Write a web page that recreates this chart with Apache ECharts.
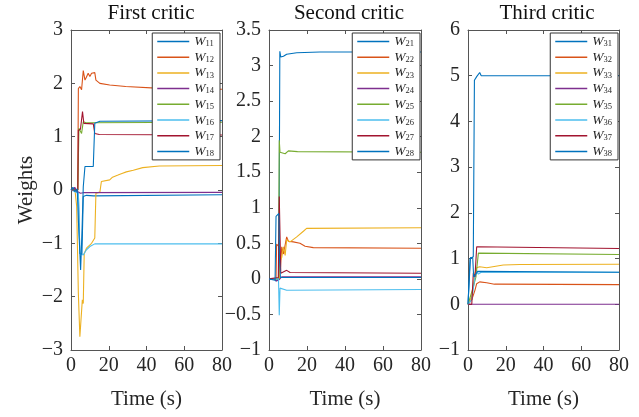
<!DOCTYPE html>
<html>
<head>
<meta charset="utf-8">
<script src="https://cdn.jsdelivr.net/npm/echarts@6/dist/echarts.min.js"></script>
<style>
html,body{margin:0;padding:0;background:#fff;}
#chart{width:639px;height:417px;}
</style>
</head>
<body>
<div id="chart"></div>
<script>
// ---------------- data ----------------
const panelTitles = ['First critic', 'Second critic', 'Third critic'];
const xLabel = 'Time (s)';
const yLabel = 'Weights';
const xRange = [0, 80, 20];
const yRange1 = [-3, 3, 1];
const yRange2 = [-1, 3.5, 0.5];
const yRange3 = [-1, 6, 1];
const names1 = ['W11','W12','W13','W14','W15','W16','W17','W18'];
const names2 = ['W21','W22','W23','W24','W25','W26','W27','W28'];
const names3 = ['W31','W32','W33','W34','W35','W36','W37','W38'];

// First critic  [time, weight]
const W11 = [[0,0],[1.5,0.03],[2.5,-0.02],[3.3,0.0],[3.9,-0.06],[4.7,-1.19],[5.8,-1.2],[6.5,-0.12],[8.2,-0.1],[12,-0.11],[80,-0.09]];
const W12 = [[0,0],[3.6,0],[3.9,1.9],[4.7,1.94],[5.6,1.88],[6.5,2.24],[7.4,2.06],[8.2,2.12],[9.1,2.19],[10,2.13],[10.9,2.19],[11.8,2.22],[12.6,2.2],[13.2,2.06],[15.3,2.0],[20.5,1.97],[29,1.94],[45,1.91],[80,1.89]];
const W13 = [[0,0],[2.1,0],[3.0,-0.3],[3.9,-1.94],[4.7,-2.75],[5.3,-2.78],[6.0,-2.06],[6.5,-2.13],[7.0,-1.19],[8.2,-1.09],[10.9,-1.0],[12.6,-0.9],[13.2,-0.06],[15.3,-0.04],[16.1,0.16],[20.5,0.19],[22,0.24],[24.9,0.28],[27,0.31],[29.3,0.34],[33,0.37],[38,0.42],[46.8,0.45],[80,0.46]];
const W14 = [[0,0],[2,0.05],[3,-0.02],[3.9,0.0],[5,-0.06],[6.5,-0.05],[80,-0.045]];
const W15 = [[0,0],[3.6,0],[4.2,1.16],[5.6,1.06],[6.5,1.28],[8,1.26],[80,1.27]];
const W16 = [[0,0],[3.9,-0.06],[4.7,-1.19],[6.5,-1.22],[8.2,-1.12],[10,-1.06],[12.6,-1.01],[80,-1.01]];
const W17 = [[0,0],[3.6,0],[3.9,1.12],[5.0,1.14],[6.1,1.47],[6.8,1.25],[11.8,1.24],[12.6,1.06],[15,1.04],[80,1.03]];
const W18 = [[0,0],[1,0.05],[2,-0.03],[3.3,0.02],[3.9,-0.56],[5.1,-1.5],[5.8,-0.81],[6.5,0.06],[7.4,0.44],[11.8,0.44],[12.6,1.25],[15.3,1.29],[80,1.3]];

// Second critic
const W21 = [[0,0],[3,0.0],[3.5,-0.03],[4.5,-0.02],[5.2,0],[5.7,3.2],[6.2,3.12],[7.6,3.13],[9.3,3.16],[14.6,3.18],[26.8,3.19],[80,3.19]];
const W22 = [[0,0],[3.7,0],[4.0,0.49],[5.4,0.45],[5.9,0.1],[6.7,0.45],[7.6,0.35],[9.3,0.59],[10.2,0.53],[12.8,0.52],[16.3,0.5],[19,0.46],[23.3,0.44],[80,0.43]];
const W23 = [[0,0],[5.5,0],[5.8,0.25],[6.7,0.3],[7.6,0.45],[8.5,0.33],[9.3,0.55],[11.1,0.52],[14.6,0.59],[18.1,0.67],[19.8,0.71],[80,0.72]];
const W24 = [[0,0],[3,0],[4,-0.03],[5.4,-0.01],[6.7,0.03],[80,0.03]];
const W25 = [[0,0],[5.0,0],[5.4,1.95],[5.8,1.78],[8.5,1.76],[10.2,1.8],[15,1.79],[80,1.78]];
const W26 = [[0,0],[5.0,0],[5.4,-0.51],[5.8,-0.13],[9.3,-0.16],[10.2,-0.14],[80,-0.15]];
const W27 = [[0,0],[4.9,0.02],[5.4,1.16],[6.2,0.08],[9.3,0.12],[11.1,0.09],[80,0.08]];
const W28 = [[0,0],[3.2,-0.02],[3.7,0.88],[5.2,0.92],[5.5,0.3],[6.0,0.02],[80,0.02]];

// Third critic
const W31 = [[0,0],[0.2,0],[1.1,1.0],[2.8,1.04],[3.4,4.9],[4.6,4.98],[5.5,5.0],[6.2,5.07],[7.0,5.0],[80,5.0]];
const W32 = [[0,0],[1,0],[2.0,0.1],[3.7,0.31],[4.6,0.45],[6.2,0.49],[9.9,0.47],[14,0.44],[80,0.43]];
const W33 = [[0,0],[1,0],[2.0,0.17],[3.7,0.68],[4.6,0.8],[5.5,0.77],[6.2,0.82],[9.9,0.8],[18.7,0.86],[27.5,0.87],[80,0.875]];
const W34 = [[0,0],[4.6,0],[5.5,-0.04],[6.2,0],[80,0]];
const W35 = [[0,0],[1,0],[2.8,0.38],[4.2,0.6],[5.5,1.12],[6.2,1.09],[80,1.09]];
const W36 = [[0,0],[1,0],[2.0,0.1],[3.7,0.6],[4.6,0.71],[5.5,0.66],[7.0,0.7],[80,0.7]];
const W37 = [[0,0],[2.0,0],[2.8,0.68],[3.7,0.6],[4.6,1.26],[5.5,1.22],[80,1.22]];
const W38 = [[0,0],[0.5,0],[1.3,1.02],[2.5,1.02],[3.0,0.6],[4.0,0.65],[5.0,0.72],[80,0.7]];

const panelData = [
  [W11,W12,W13,W14,W15,W16,W17,W18],
  [W21,W22,W23,W24,W25,W26,W27,W28],
  [W31,W32,W33,W34,W35,W36,W37,W38]
];
const panelNames = [names1, names2, names3];
const yRanges = [yRange1, yRange2, yRange3];

// ---------------- style ----------------
const colors = ['#0072BD','#D95319','#EDB120','#7E2F8E','#77AC30','#4DBEEE','#A2142F','#0072BD'];
const FONT = 'Liberation Serif';
const axisColor = '#555555';
const textColor = '#262626';
const grids = [
  {left: 71, top: 30, width: 151, height: 320},
  {left: 269, top: 30, width: 152, height: 320},
  {left: 468, top: 30, width: 151, height: 320}
];
const legendRight = [419, 219, 21];
const titleX = [151, 349, 547];

const lineStyle = {color: axisColor, width: 1};
const fmt = v => String(v).replace('-', '\u2212');

const xAxis = [], yAxis = [], series = [], legend = [], graphic = [];
grids.forEach((g, gi) => {
  xAxis.push({
    type: 'value', gridIndex: gi, min: xRange[0], max: xRange[1], interval: xRange[2],
    position: 'bottom',
    axisLine: {show: true, onZero: false, lineStyle},
    axisTick: {show: true, inside: true, length: 4, lineStyle},
    axisLabel: {fontFamily: FONT, fontSize: 20, color: textColor, margin: 6},
    splitLine: {show: false},
    name: xLabel, nameLocation: 'middle', nameGap: 39,
    nameTextStyle: {fontFamily: FONT, fontSize: 21, color: textColor}
  });
  xAxis.push({
    type: 'value', gridIndex: gi, min: xRange[0], max: xRange[1], interval: xRange[2],
    position: 'top',
    axisLine: {show: true, onZero: false, lineStyle},
    axisTick: {show: true, inside: true, length: 4, lineStyle},
    axisLabel: {show: false}, splitLine: {show: false}
  });
  const yr = yRanges[gi];
  const ya = {
    type: 'value', gridIndex: gi, min: yr[0], max: yr[1], interval: yr[2],
    position: 'left',
    axisLine: {show: true, onZero: false, lineStyle},
    axisTick: {show: true, inside: true, length: 4, lineStyle},
    axisLabel: {fontFamily: FONT, fontSize: 20, color: textColor, margin: 8, formatter: fmt},
    splitLine: {show: false}
  };
  if (gi === 0) {
    ya.name = yLabel; ya.nameLocation = 'middle'; ya.nameGap = 34;
    ya.nameTextStyle = {fontFamily: FONT, fontSize: 21, color: textColor};
  }
  yAxis.push(ya);
  yAxis.push({
    type: 'value', gridIndex: gi, min: yr[0], max: yr[1], interval: yr[2],
    position: 'right',
    axisLine: {show: true, onZero: false, lineStyle},
    axisTick: {show: true, inside: true, length: 4, lineStyle},
    axisLabel: {show: false}, splitLine: {show: false}
  });
  panelData[gi].forEach((d, k) => {
    series.push({
      type: 'line', name: panelNames[gi][k], data: d,
      xAxisIndex: gi * 2, yAxisIndex: gi * 2,
      symbol: 'none', showSymbol: false,
      color: colors[k],
      lineStyle: {width: 1.1, color: colors[k]},
      emphasis: {disabled: true}
    });
  });
  legend.push({
    data: panelNames[gi].map(n => ({name: n, icon: 'rect'})),
    orient: 'vertical', right: legendRight[gi], top: 33,
    backgroundColor: '#ffffff', borderColor: '#333333', borderWidth: 1,
    padding: [1.5, 6, 1.5, 5], itemGap: 1.7, itemWidth: 32, itemHeight: 1.5,
    selectedMode: false,
    formatter: n => '{i|W}{s|' + n.slice(1) + '}',
    textStyle: {
      color: textColor, lineHeight: 14,
      rich: {
        i: {fontFamily: FONT, fontStyle: 'italic', fontSize: 13.5, lineHeight: 14, verticalAlign: 'bottom', color: textColor},
        s: {fontFamily: FONT, fontSize: 8.5, lineHeight: 6, verticalAlign: 'bottom', color: textColor}
      }
    }
  });
  graphic.push({
    type: 'text', x: titleX[gi], y: 13,
    style: {text: panelTitles[gi], font: '21px "' + FONT + '"', fill: '#111111', textAlign: 'center', textVerticalAlign: 'middle'}
  });
});

const chart = echarts.init(document.getElementById('chart'), null, {renderer: 'canvas'});
chart.setOption({
  animation: false,
  backgroundColor: '#ffffff',
  grid: grids,
  xAxis, yAxis, series, legend, graphic
});
</script>
</body>
</html>
